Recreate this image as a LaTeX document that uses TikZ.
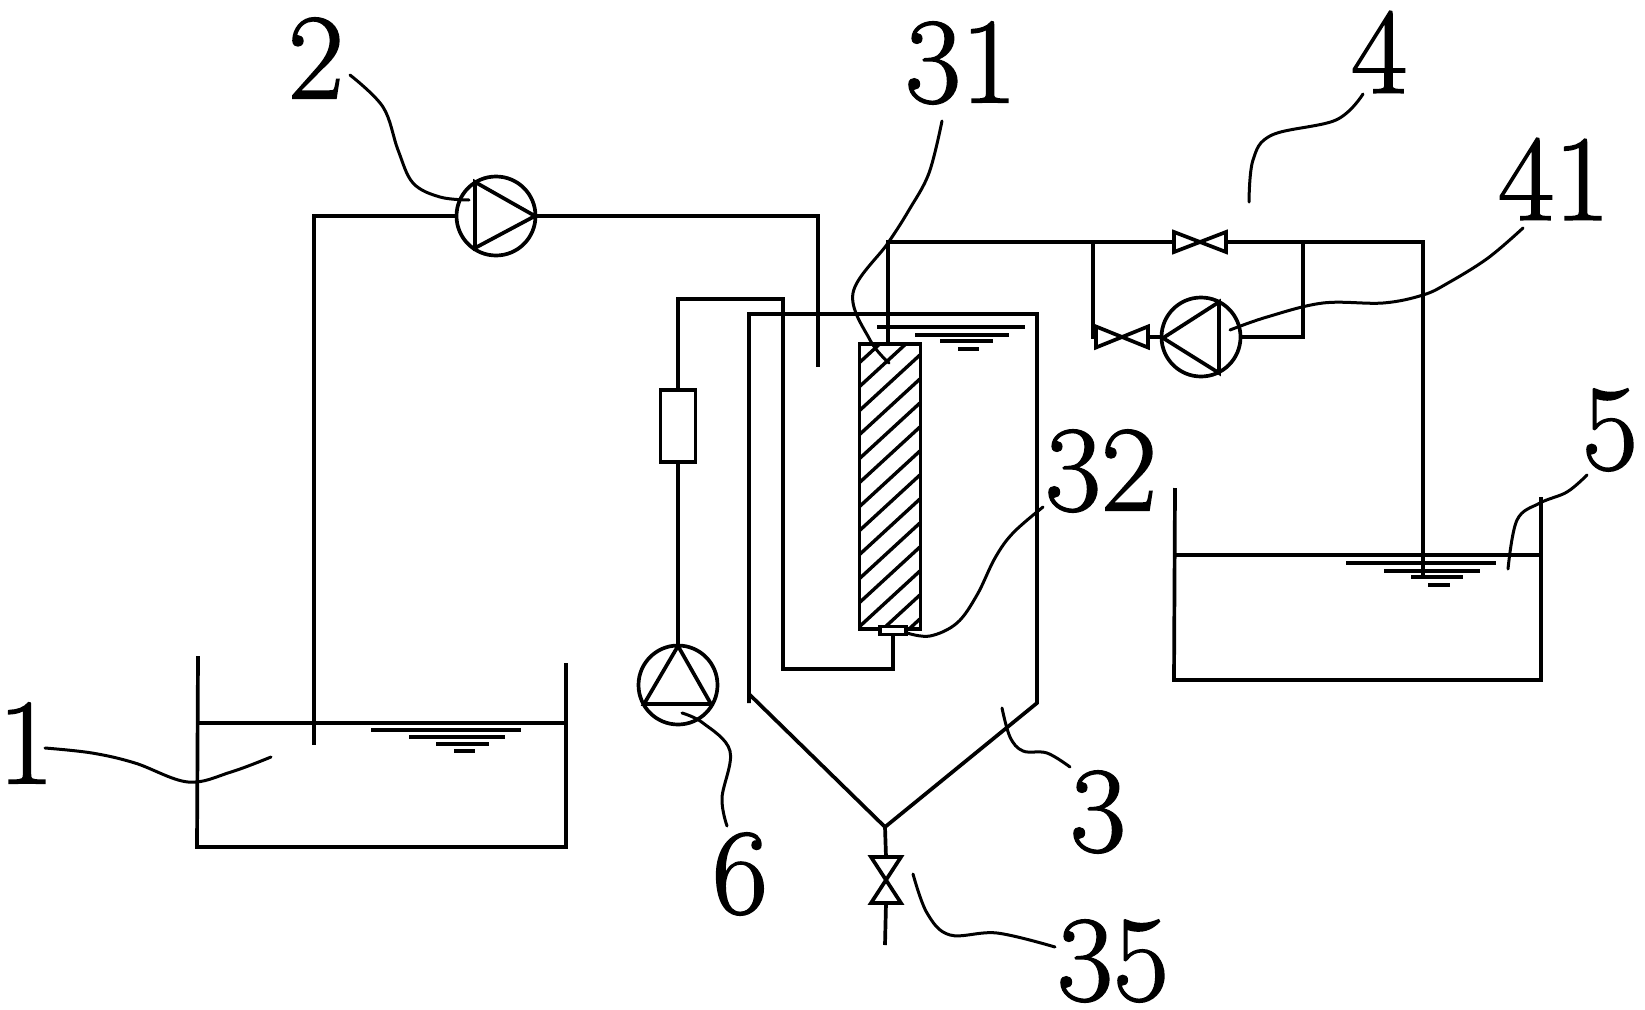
\documentclass[tikz,border=0pt]{standalone}
\usepackage{xcolor}
\usepackage{fontspec}
\newfontfamily\labfont[FakeBold=1.3]{Latin Modern Roman}
\usetikzlibrary{calc}
\definecolor{ink}{HTML}{000000}
\tikzset{
  pipe/.style={draw=ink, line width=3.7pt, line join=miter},
  level/.style={draw=ink, line width=3.4pt},
  lead/.style={draw=ink, line width=3pt, line cap=round},
  hatchline/.style={draw=ink, line width=3.4pt},
  pumpc/.style={circle, draw=ink, line width=3.7pt, fill=white, minimum size=79pt, inner sep=0pt, outer sep=1pt},
  valvebox/.style={rectangle, inner sep=0pt, outer sep=0pt},
  box/.style={rectangle, draw=ink, line width=3.7pt, inner sep=0pt, outer sep=0pt},
  lab/.style={text=ink, font=\labfont\fontsize{122}{122}\selectfont, inner sep=0pt},
}

\begin{document}
\begin{tikzpicture}[x=1pt,y=-1pt]
  \useasboundingbox (0,0) rectangle (1645,1009);

  % tanks
  \draw[pipe] (198,656)--(197,847)--(566,847)--(566,663);
  \draw[pipe] (198,723)--(566,723);
  \draw[pipe] (1175,488)--(1174,680)--(1541,680)--(1541,497);
  \draw[pipe] (1175,555)--(1541,555);
  \draw[pipe] (749,703)--(749,314)--(1037,314)--(1037,703)--(885,827)--(749,694);

  % water levels
  \draw[level] (371,730)--(521,730);
  \draw[level] (409,737)--(505,737);
  \draw[level] (436,744)--(489,744);
  \draw[level] (454,751)--(475,751);
  \draw[level] (877,327)--(1025,327);
  \draw[level] (915,335)--(1009,335);
  \draw[level] (940,341)--(993,341);
  \draw[level] (958,349)--(979,349);
  \draw[level] (1346,563)--(1496,563);
  \draw[level] (1384,571)--(1480,571);
  \draw[level] (1411,577)--(1463,577);
  \draw[level] (1428,585)--(1450,585);

  % membrane
  \node[box,minimum width=61pt,minimum height=285pt] (membrane) at (890,486.5) {};
  \begin{scope}
    \clip (859,344) rectangle (921,629);
    \foreach \k in {0,...,13} {
      \draw[hatchline] (859,{363+24*\k})--(921,{363+24*\k-57});
    }
  \end{scope}
  \node[box,fill=white,minimum width=26pt,minimum height=8pt] (cap32) at (893,630.5) {};

  % pumps and meter
  \node[pumpc] (pump2) at (496,216) {};
  \node[pumpc] (pump6) at (678,685) {};
  \node[pumpc] (pump41) at (1201,337) {};
  \node[box,minimum width=35pt,minimum height=72pt] (meter) at (678,426) {};
  \draw[pipe] (475,182)--(535,216)--(475,248)--cycle;
  \draw[pipe] (678,646)--(711,704)--(644,704)--cycle;
  \draw[pipe] (1163,338)--(1219,302)--(1219,373)--cycle;

  % valves
  \node[valvebox,minimum width=52pt,minimum height=20pt] (valveA) at (1200,242) {};
  \node[valvebox,minimum width=52pt,minimum height=21pt] (valveB) at (1122,337) {};
  \node[valvebox,minimum width=30pt,minimum height=46pt] (valveC) at (886,880) {};
  \draw[pipe] (valveA.north west)--(valveA.south east)--(valveA.north east)--(valveA.south west)--cycle;
  \draw[pipe] (valveB.north west)--(valveB.south east)--(valveB.north east)--(valveB.south west)--cycle;
  \draw[pipe] (valveC.north west)--(valveC.north east)--(valveC.south west)--(valveC.south east)--cycle;

  % pipes
  \coordinate (in1) at (314,745);
  \coordinate (in3) at (818,367);
  \coordinate (top3) at (888,344);
  \coordinate (in5) at (1423,575);
  \coordinate (tee1) at (1093,242);
  \coordinate (tee2) at (1303,242);
  \coordinate (apex) at (885,827);
  \coordinate (drain) at (885,945);
  \draw[pipe] (pump2.west) -| (in1);
  \draw[pipe] (pump2.east) -| (in3);
  \draw[pipe] (pump6.north) -- (meter.south);
  \draw[pipe] (meter.north) |- (783,299) -- (783,669) -| (cap32.south);
  \draw[pipe] (top3) |- (valveA.west);
  \draw[pipe] (valveA.east) -| (in5);
  \draw[pipe] (tee1) |- (valveB.west);
  \draw[pipe] (valveB.east) -- (pump41.west);
  \draw[pipe] (pump41.east) -| (tee2);
  \draw[pipe] (apex) -- (valveC.north);
  \draw[pipe] (valveC.south) -- (drain);

  % labels
  \node[lab] (lab1) at (26,743) {1};
  \node[lab] (lab2) at (316,58) {2};
  \node[lab] (lab3) at (1098,812) {3};
  \node[lab] (lab31) at (961,63) {31};
  \node[lab] (lab32) at (1101,471) {32};
  \node[lab] (lab35) at (1113,961) {35};
  \node[lab] (lab4) at (1379,52) {4};
  \node[lab] (lab41) at (1554,179) {41};
  \node[lab] (lab5) at (1610,430) {5};
  \node[lab] (lab6) at (740,874) {6};

  % leaders
  \draw[lead] plot[smooth,tension=0.6] coordinates {(45,748) (92,753) (135,763) (188,782) (231,772) (271,757)};
  \draw[lead] plot[smooth,tension=0.6] coordinates {(350,75) (383,107) (398,150) (413,183) (440,197) (469,200)};
  \draw[lead] plot[smooth,tension=0.6] coordinates {(1002,708) (1010,737) (1023,751) (1047,753) (1070,767)};
  \draw[lead] plot[smooth,tension=0.6] coordinates {(942,121) (929,173) (909,210) (888,243) (853,293) (870,340) (889,363)};
  \draw[lead] plot[smooth,tension=0.6] coordinates {(907,633) (930,636) (957,623) (977,595) (995,558) (1013,533) (1043,507)};
  \draw[lead] plot[smooth,tension=0.6] coordinates {(913,874) (927,913) (950,935) (997,933) (1055,947)};
  \draw[lead] plot[smooth,tension=0.6] coordinates {(1363,94) (1336,120) (1272,135) (1253,160) (1249,202)};
  \draw[lead] plot[smooth,tension=0.6] coordinates {(1230,330) (1267,317) (1323,303) (1383,303) (1423,295) (1448,283) (1488,258) (1523,228)};
  \draw[lead] plot[smooth,tension=0.6] coordinates {(1587,475) (1567,492) (1540,503) (1517,520) (1508,569)};
  \draw[lead] plot[smooth,tension=0.6] coordinates {(682,713) (703,723) (730,751) (722,798) (727,826)};
\end{tikzpicture}
\end{document}
